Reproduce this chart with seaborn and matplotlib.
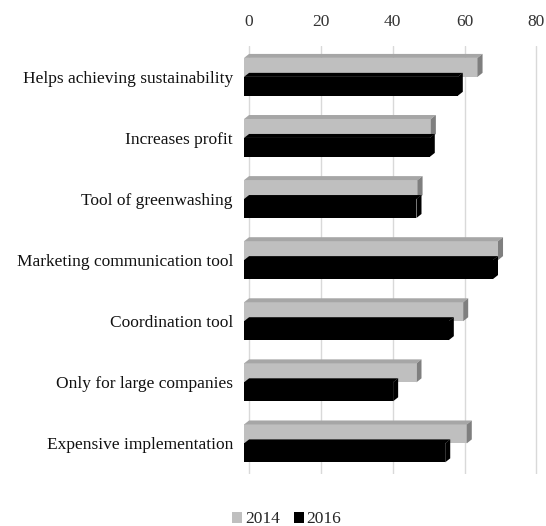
import matplotlib
matplotlib.use("Agg")
import matplotlib.pyplot as plt
from matplotlib.patches import Polygon
import seaborn as sns
import pandas as pd

categories = ["Helps achieving sustainability", "Increases profit", "Tool of greenwashing",
              "Marketing communication tool", "Coordination tool", "Only for large companies",
              "Expensive implementation"]
years = ["2014", "2016"]
values_2014 = [65, 52, 48.3, 70.7, 61, 48, 62]
values_2016 = [59.5, 51.7, 48, 69.3, 57, 41.5, 56]
x_ticks = [0, 20, 40, 60, 80]

df = pd.DataFrame({
    "category": categories * 2,
    "year": [years[0]] * len(categories) + [years[1]] * len(categories),
    "value": values_2014 + values_2016,
})

sns.set_theme(style="white")
plt.rcParams["font.family"] = ["Liberation Serif", "DejaVu Serif"]

fig = plt.figure(figsize=(5.46, 5.26), dpi=100)
ax = fig.add_axes([0.447, 0.099, 0.546, 0.813])

palette = {"2014": "#bfbfbf", "2016": "#000000"}
sns.barplot(data=df, y="category", x="value", hue="year", order=categories,
            hue_order=years, palette=palette, orient="h", width=0.62,
            saturation=1, ax=ax, legend=True, zorder=3, linewidth=0)

# pseudo-3D depth: back plane shifted by dx (data units), dy (category units)
dx, dy = 1.4, 0.065
year_of_patch = [years[0]] * len(categories) + [years[1]] * len(categories)
for bar, yr in zip(ax.patches, year_of_patch):
    x0 = bar.get_x(); w = bar.get_width(); y0 = bar.get_y(); h = bar.get_height()
    if w <= 0:
        continue
    x1 = x0 + w
    ytop = y0
    side_col = "#7f7f7f" if yr == "2014" else "#000000"
    top_col = "#a6a6a6" if yr == "2014" else "#000000"
    top = Polygon([(x0, ytop), (x1, ytop), (x1 + dx, ytop - dy), (x0 + dx, ytop - dy)],
                  closed=True, facecolor=top_col, edgecolor="none", zorder=3)
    side = Polygon([(x1, ytop), (x1 + dx, ytop - dy), (x1 + dx, ytop + h - dy), (x1, ytop + h)],
                   closed=True, facecolor=side_col, edgecolor="none", zorder=3)
    ax.add_patch(top)
    ax.add_patch(side)

# ticks / gridlines live on the back plane
ax.set_xlim(0, 83)
ax.set_xticks([t + dx for t in x_ticks])
ax.set_xticklabels([str(t) for t in x_ticks])
ax.xaxis.tick_top()
ax.xaxis.set_label_position("top")
ax.set_xlabel("")
ax.set_ylabel("")
ax.grid(axis="x", color="#d9d9d9", linewidth=1, zorder=0)
for s in ax.spines.values():
    s.set_visible(False)
ax.tick_params(axis="x", labelsize=12.5, pad=12, length=0, colors="#333333")
ax.tick_params(axis="y", labelsize=12.5, pad=8, length=0, colors="#111111")

handles, labels = ax.get_legend_handles_labels()
ax.get_legend().remove()
fig.legend(handles, labels, loc="lower center", bbox_to_anchor=(0.525, -0.032), ncol=2,
           frameon=False, handlelength=0.6, handleheight=0.6, handletextpad=0.15,
           columnspacing=0.8, fontsize=12.5)

fig.savefig("out.png", dpi=100)
